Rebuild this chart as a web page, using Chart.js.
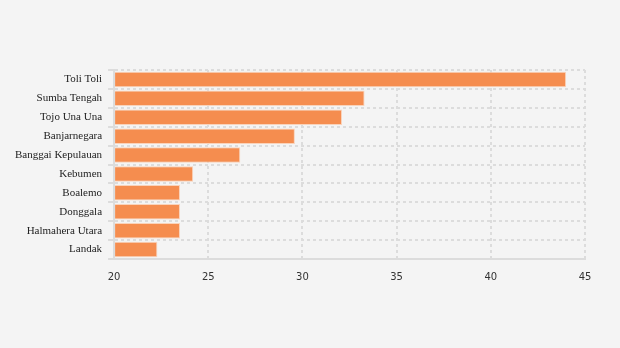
<!DOCTYPE html>
<html>
<head>
<meta charset="utf-8">
<script src="https://cdn.jsdelivr.net/npm/chart.js@4/dist/chart.umd.min.js"></script>
<style>
  html, body { margin: 0; padding: 0; background: #f4f4f4; }
  #wrap { width: 620px; height: 348px; }
</style>
</head>
<body>
<div id="wrap"><canvas id="bars"></canvas></div>
<script>
const regions = ['Toli Toli', 'Sumba Tengah', 'Tojo Una Una', 'Banjarnegara', 'Banggai Kepulauan',
  'Kebumen', 'Boalemo', 'Donggala', 'Halmahera Utara', 'Landak']
const values = [44.0, 33.3, 32.1, 29.6, 26.7, 24.2, 23.5, 23.5, 23.5, 22.3]
const xTicks = [20, 25, 30, 35, 40, 45]

const gridStyle = {
  color: '#dcdcdc',
  lineWidth: 2,
  tickColor: '#dcdcdc',
}

const ctxbars = document.getElementById('bars')
if(ctxbars) {
  const bars = {
    type: 'bar',
    data: {
      labels: regions,
      datasets: [
        {
          label: 'Nilai',
          backgroundColor: '#f58d4f',
          borderColor: '#f9d3bb',
          borderWidth: 1,
          barPercentage: 0.82,
          categoryPercentage: 1.0,
          base: 20,
          data: values,
        },
      ],
    },
    options: {
      indexAxis: 'y',
      responsive: true,
      maintainAspectRatio: false,
      animation: false,
      layout: {
        padding: { top: 70, left: 9, right: 35, bottom: 53 },
      },
      plugins: {
        legend: { display: false },
        tooltip: { enabled: false },
      },
      scales: {
        x: {
          min: 20,
          max: 45,
          afterBuildTicks: function(axis) {
            axis.ticks = xTicks.map(v => ({ value: v }))
          },
          grid: Object.assign({}, gridStyle, { drawTicks: false }),
          border: { display: true, color: '#dcdcdc', width: 2, dash: [3, 3] },
          ticks: {
            padding: 12,
            color: '#333',
            font: { family: 'DejaVu Sans', size: 10 },
          },
        },
        y: {
          grid: Object.assign({}, gridStyle, { tickLength: 6 }),
          border: { display: true, color: '#dcdcdc', width: 2, dash: [3, 3] },
          ticks: {
            padding: 6,
            color: '#222',
            font: { family: 'Liberation Serif', size: 11 },
          },
        },
      },
    },
  }

  window.myBar = new Chart(ctxbars, bars)
}
</script>
</body>
</html>
